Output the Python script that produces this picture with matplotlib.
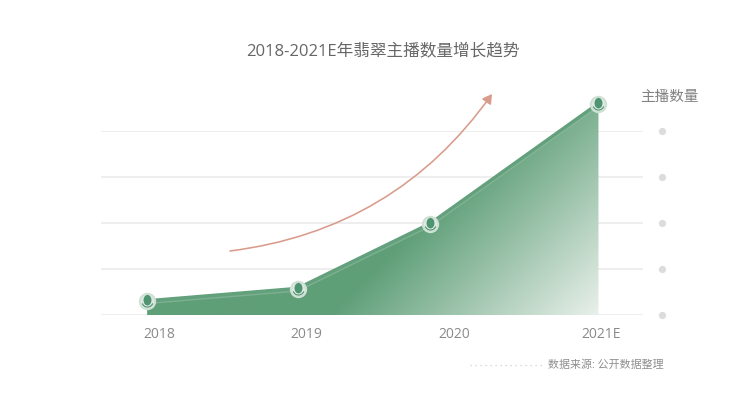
#!/usr/bin/env python3

import matplotlib
matplotlib.use('Agg')
import matplotlib.pyplot as plt
import numpy as np
from matplotlib.colors import LinearSegmentedColormap
from matplotlib.patches import FancyArrowPatch, Polygon
from matplotlib.path import Path
from matplotlib.transforms import Affine2D

plt.rcParams['font.family'] = ['Open Sans', 'Noto Sans CJK SC', 'DejaVu Sans']

# no numbers on the y axis in the source, so values are in gridline steps
point_years = [2017.92, 2018.94, 2019.84, 2020.98]
anchor_count = [0.30, 0.57, 1.98, 4.59]
tick_years = [2018, 2019, 2020, 2021]
tick_labels = ['2018', '2019', '2020', '2021E']
grid_levels = [0, 1, 2, 3, 4]

W, H = 750, 395
fig = plt.figure(figsize=(W / 100, H / 100), dpi=100)

# axes box runs along the gridlines, px 101-643 and 131-315
ax = fig.add_axes([101 / W, 1 - 315 / H, 542 / W, 184 / H])
ax.set_xlim(2017.607, 2021.282)
ax.set_ylim(0, 4)
ax.axis('off')

for lv in grid_levels:
    ax.axhline(lv, color='#e9e9e9', lw=1.1, zorder=1)
    ax.plot([1.035], [lv], 'o', ms=5.2, color='#dcdcdc', mec='none',
            transform=ax.get_yaxis_transform(), clip_on=False)

# gradient area
cmap = LinearSegmentedColormap.from_list('g', ['#5f9f78', '#e8f0ea'])
xx, yy = np.meshgrid(np.linspace(0, 1, 300), np.linspace(0, 1, 300))
px = 101 + xx * 542
py = 315 - yy * 400
t = np.clip((px + py - 645) / 268, 0, 1)
img = ax.imshow(t, origin='lower', extent=[2017.607, 2021.282, 0, 400 / 46],
                cmap=cmap, vmin=0, vmax=1, aspect='auto', zorder=2,
                interpolation='bilinear')
ax.set_xlim(2017.607, 2021.282)
ax.set_ylim(0, 4)
verts = list(zip(point_years, anchor_count))
verts = [(point_years[0], 0)] + verts + [(point_years[-1], 0)]
clip = Polygon(verts, closed=True, transform=ax.transData, fc='none', ec='none')
ax.add_patch(clip)
img.set_clip_box(fig.bbox)
img.set_clip_path(clip)

# top edge of the area
ax.plot(point_years, anchor_count, color='#63a07c', lw=3.0, zorder=3,
        solid_capstyle='butt', clip_on=False)
ax.plot(point_years, [v - 0.05 for v in anchor_count], color='#ffffff', alpha=0.18,
        lw=1.0, zorder=3, solid_capstyle='butt', clip_on=False)

# microphone markers
mic_head = Path.unit_circle().transformed(Affine2D().scale(0.75, 1.0).translate(0, 0.25))
mic_cup = Path.arc(200, 340)
ax.plot(point_years, anchor_count, 'o', ms=12.5, mfc='#cfe0d5', mec='none',
        zorder=4, clip_on=False)
ax.plot(point_years, anchor_count, 'o', ms=9.5, mfc='#dde9e2', mec='none',
        zorder=4, clip_on=False)
ax.plot(point_years, anchor_count, marker=mic_head, ls='none', ms=9.5, mfc='#4f9470',
        mec='none', zorder=5, clip_on=False)
ax.plot(point_years, anchor_count, marker=mic_cup, ls='none', ms=8, mfc='none',
        mec='#4f9470', mew=0.8, zorder=5, clip_on=False)

# trend arrow, in pixel space
to_fig = lambda x, y: (x / W, 1 - y / H)
arrow = FancyArrowPatch(to_fig(230, 251), to_fig(492, 94), transform=fig.transFigure,
                        connectionstyle='arc3,rad=0.22', arrowstyle='-|>,head_length=5.5,head_width=3.2',
                        color='#d99c8c', lw=1.15, shrinkA=0, shrinkB=0, zorder=6)
fig.add_artist(arrow)

for yr, lab in zip(tick_years, tick_labels):
    ax.text(yr, -20 / 46, lab, ha='center', va='center', fontsize=10, color='#8a8a8a')

fig.text(382.5 / W, 1 - 51 / H, '2018-2021E年翡翠主播数量增长趋势', ha='center', va='center',
         fontsize=12, color='#666666')
fig.text(669 / W, 1 - 97 / H, '主播数量', ha='center', va='center', fontsize=10.5,
         color='#808080')
fig.text(606 / W, 1 - 365 / H, '数据来源: 公开数据整理', ha='center', va='center', fontsize=7.9,
         color='#8f8f8f')
fig.add_artist(plt.Line2D([470 / W, 542 / W], [1 - 365 / H] * 2, color='#c4d6cb', lw=0.9,
                          ls=(0, (1, 3)), transform=fig.transFigure))

fig.savefig('out.png', dpi=100)
